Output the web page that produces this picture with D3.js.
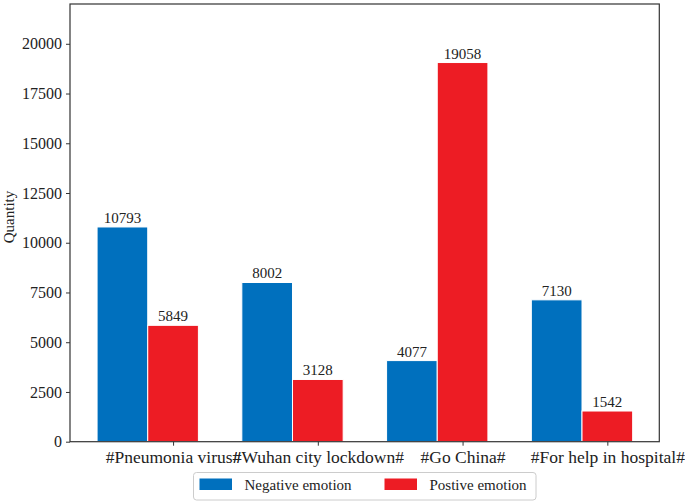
<!DOCTYPE html>
<html><head><meta charset="utf-8">
<script src="https://cdn.jsdelivr.net/npm/d3@7"></script>
<style>body{margin:0;background:#fff}svg{display:block}svg text{font-family:"Liberation Serif",serif !important;fill:#222}</style>
</head><body>
<svg id="c" width="685" height="503" font-family="Liberation Serif"></svg>
<script>
const categories = ["#Pneumonia virus#", "#Wuhan city lockdown#", "#Go China#", "#For help in hospital#"];
const negative = [10793, 8002, 4077, 7130];
const positive = [5849, 3128, 19058, 1542];
const seriesNames = ["Negative emotion", "Postive emotion"];
const seriesColors = ["#0070BE", "#ED1C24"];
const yTicks = [0, 2500, 5000, 7500, 10000, 12500, 15000, 17500, 20000];

const svg = d3.select("#c");
const F = "Liberation Serif";
const L = 70, R = 659.3, T = 4, B = 441.7;
const barW = 0.35;
const x = d3.scaleLinear().domain([-0.712, 3.359]).range([L, R]);
const y = d3.scaleLinear().domain([0, 22000]).range([B, T]);

// bars
const series = [negative, positive];
series.forEach((vals, s) => {
  const off = s === 0 ? -barW : 0;
  svg.append("g").selectAll("rect").data(vals).join("rect")
    .attr("x", (d, i) => x(i + off - barW / 2))
    .attr("width", x(barW) - x(0))
    .attr("y", d => y(d))
    .attr("height", d => y(0) - y(d))
    .attr("fill", seriesColors[s])
    .attr("stroke", "#fff").attr("stroke-width", 1);
  svg.append("g").selectAll("text").data(vals).join("text")
    .attr("x", (d, i) => x(i + off))
    .attr("y", d => y(d) - 4)
    .attr("text-anchor", "middle")
    .attr("font-family", F)
    .attr("font-size", 15)
    .text(d => d);
});

// frame
svg.append("rect").attr("x", L).attr("y", T).attr("width", R - L).attr("height", B - T)
  .attr("fill", "none").attr("stroke", "#333").attr("stroke-width", 1.2);

// y axis
const ya = svg.append("g").attr("transform", `translate(${L},0)`)
  .call(d3.axisLeft(y).tickValues(yTicks).tickSize(4).tickPadding(4).tickFormat(d3.format("d")));
ya.attr("font-family", F);
ya.select(".domain").remove();
ya.selectAll("text").attr("font-size", 16).attr("fill", "#222");
ya.selectAll("line").attr("stroke", "#333");

// x axis
const xa = svg.append("g").attr("transform", `translate(0,${B})`)
  .call(d3.axisBottom(x).tickValues(d3.range(categories.length)).tickSize(4).tickPadding(5).tickFormat(i => categories[i]));
xa.attr("font-family", F);
xa.select(".domain").remove();
xa.selectAll("text").attr("font-size", 17.5).attr("fill", "#222");
xa.selectAll("line").attr("stroke", "#333");

// y label
svg.append("text").attr("transform", "translate(14,217) rotate(-90)")
  .attr("text-anchor", "middle").attr("font-family", F).attr("font-size", 15).text("Quantity");

// legend
const lg = svg.append("g").attr("font-family", F);
lg.append("rect").attr("x", 193.5).attr("y", 472.5).attr("width", 342.5).attr("height", 27.5)
  .attr("rx", 3).attr("fill", "#fff").attr("stroke", "#ccc");
const legendX = [199.5, 384.5];
seriesNames.forEach((n, s) => {
  lg.append("rect").attr("x", legendX[s]).attr("y", 478.5).attr("width", 32.5).attr("height", 11.5)
    .attr("fill", seriesColors[s]);
  lg.append("text").attr("x", legendX[s] + 45).attr("y", 489.5).attr("font-family", F).attr("font-size", 15).text(n);
});
</script>
</body></html>
